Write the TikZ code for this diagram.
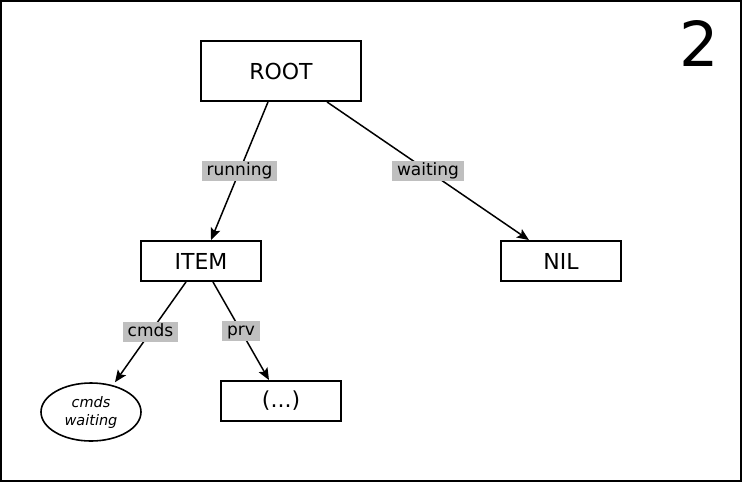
\documentclass[tikz,border=0pt]{standalone}
\usepackage{fontspec}
\setmainfont{DejaVu Sans}
\usepackage{tikz}
\usetikzlibrary{shapes.geometric, positioning, arrows.meta}

\tikzset{
    box/.style={draw, line width=1.9pt, minimum width=120pt, minimum height=40pt,
        inner sep=0pt, font=\fontsize{22}{26}\selectfont},
    lbl/.style={fill=gray!50, inner xsep=5pt, inner ysep=2pt, text height=12.5pt,
        text depth=4pt, font=\fontsize{17}{19}\selectfont},
    link/.style={->, line width=1.5pt}
}

\begin{document}
\begin{tikzpicture}[>={Stealth[length=12pt, width=10pt, inset=2.5pt]}, x=1pt, y=-1pt]
    % Khung ngoài
    \useasboundingbox (0,0) rectangle (743,483);
    \draw[line width=2pt] (1,1) rectangle (741,481);
    \node[font=\fontsize{62}{70}\selectfont] (num) at (699,43) {2};

    % Các nút
    \node[box, minimum width=160pt, minimum height=60pt] (root) at (281,71) {ROOT};
    \node[box] (item) at (201,261) {ITEM};
    \node[box] (nil) at (561,261) {NIL};
    \node[box] (more) at (281,401) {(...)};
    \node[draw, ellipse, line width=1.6pt, minimum width=100pt, minimum height=58pt,
        inner sep=0pt, align=center, font=\fontsize{14.5}{18}\selectfont\itshape]
        (cw) at (91,412) {cmds\\waiting};

    % Các cạnh
    \draw[link] ([xshift=-13pt]root.south) -- ([xshift=10pt]item.north)
        node[lbl, midway] (lrun) {running};
    \draw[link] ([xshift=46pt]root.south) -- ([xshift=-32pt]nil.north)
        node[lbl, midway] (lwait) {waiting};
    \draw[link] ([xshift=-15pt]item.south) -- ([xshift=24pt]cw.north)
        node[lbl, midway] (lcmds) {cmds};
    \draw[link] ([xshift=12pt]item.south) -- ([xshift=-12pt]more.north)
        node[lbl, midway] (lprv) {prv};
\end{tikzpicture}
\end{document}
